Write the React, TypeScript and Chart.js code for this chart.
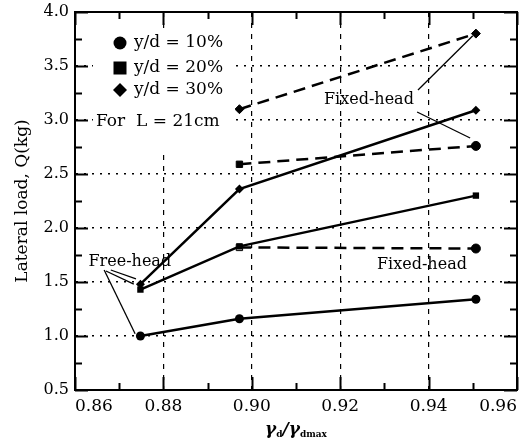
import React, { useEffect, useRef } from 'react';
import { Chart, registerables } from 'chart.js';

Chart.register(...registerables);

// ---- data ----
const freeX = [0.8748, 0.8972, 0.9507];
const free10 = [1.0, 1.16, 1.34];
const free20 = [1.43, 1.83, 2.3];
const free30 = [1.48, 2.36, 3.09];

const fixedX = [0.8972, 0.9507];
const fixed10 = [1.82, 1.81];
const fixed20 = [2.59, 2.76];
const fixed30 = [3.1, 3.8];

const xTickLabels = ['0.86', '0.88', '0.90', '0.92', '0.94', '0.96'];
const yTickLabels = ['0.5', '1.0', '1.5', '2.0', '2.5', '3.0', '3.5', '4.0'];

const legendLabels = ['y/d = 10%', 'y/d = 20%', 'y/d = 30%'];
const legendNote = 'For  L = 21cm';

// annotation leader lines in data units [x, y]
const leaderFixedUpper = [[0.9376, 3.278], [0.95, 3.78]];
const leaderFixedLower = [[0.9374, 3.074], [0.9494, 2.833]];
const leaderFreeA = [[0.8666, 1.611], [0.8736, 1.02]];
const leaderFreeB = [[0.867, 1.602], [0.8733, 1.481]];
const leaderFreeC = [[0.8681, 1.611], [0.8738, 1.528]];

const annotationTexts = [
  { text: 'Fixed-head', x: 0.9265, y: 3.185 },
  { text: 'Fixed-head', x: 0.9385, y: 1.657 },
  { text: 'Free-head', x: 0.8724, y: 1.685 },
];

const SERIF = '"DejaVu Serif", "Liberation Serif", serif';

const pts = (xs: number[], ys: number[]) => xs.map((x, i) => ({ x, y: ys[i] }));
const seg = (arr: number[][]) => arr.map(([x, y]) => ({ x, y }));

const near = (v: number, step: number) => Math.abs(v / step - Math.round(v / step)) < 1e-6;

const decorPlugin = {
  id: 'decor',
  afterDraw(chart: any) {
    const ctx = chart.ctx as CanvasRenderingContext2D;
    const { left, right, top, bottom } = chart.chartArea;
    const xs = chart.scales.x;
    const ys = chart.scales.y;
    ctx.save();
    ctx.setLineDash([]);
    ctx.strokeStyle = '#000';
    ctx.fillStyle = '#000';
    ctx.lineCap = 'butt';

    // frame
    ctx.lineWidth = 2;
    ctx.strokeRect(left, top, right - left, bottom - top);

    // inward ticks
    ctx.lineWidth = 2;
    for (let k = 0; k <= 10; k++) {
      const v = 0.86 + k * 0.01;
      const px = Math.round(xs.getPixelForValue(v)) + 0.5;
      const len = k % 2 === 0 ? 13 : 7;
      ctx.beginPath();
      ctx.moveTo(px, bottom);
      ctx.lineTo(px, bottom - len);
      ctx.moveTo(px, top);
      ctx.lineTo(px, top + len);
      ctx.stroke();
    }
    for (let k = 0; k <= 14; k++) {
      const v = 0.5 + k * 0.25;
      const py = Math.round(ys.getPixelForValue(v)) + 0.5;
      const len = k % 2 === 0 ? 13 : 7;
      ctx.beginPath();
      ctx.moveTo(left, py);
      ctx.lineTo(left + len, py);
      ctx.moveTo(right, py);
      ctx.lineTo(right - len, py);
      ctx.stroke();
    }

    // legend box (white background)
    ctx.fillStyle = '#fff';
    ctx.fillRect(left + 18, top + 18, 142, 120);
    ctx.fillStyle = '#000';
    const mx = left + 45;
    const rows = [top + 31, top + 56, top + 78];
    ctx.beginPath();
    ctx.arc(mx, rows[0], 6.5, 0, Math.PI * 2);
    ctx.fill();
    ctx.fillRect(mx - 6.5, rows[1] - 6.5, 13, 13);
    ctx.beginPath();
    ctx.moveTo(mx, rows[2] - 7);
    ctx.lineTo(mx + 7, rows[2]);
    ctx.lineTo(mx, rows[2] + 7);
    ctx.lineTo(mx - 7, rows[2]);
    ctx.closePath();
    ctx.fill();
    ctx.font = `17px ${SERIF}`;
    ctx.textBaseline = 'middle';
    ctx.textAlign = 'left';
    legendLabels.forEach((t, i) => ctx.fillText(t, mx + 14, rows[i]));
    ctx.fillText(legendNote, left + 21, ys.getPixelForValue(3.0) + 2);

    // annotation texts
    ctx.font = `16px ${SERIF}`;
    ctx.textAlign = 'center';
    annotationTexts.forEach((a) => {
      ctx.fillText(a.text, xs.getPixelForValue(a.x), ys.getPixelForValue(a.y));
    });

    // x-axis title: γd/γdmax
    const big = `italic bold 17px ${SERIF}`;
    const small = `bold 9px ${SERIF}`;
    const parts: [string, string, number][] = [
      ['γ', big, 0],
      ['d', small, 3],
      ['/', big, 0],
      ['γ', big, 0],
      ['dmax', small, 3],
    ];
    let total = 0;
    parts.forEach(([t, f]) => {
      ctx.font = f;
      total += ctx.measureText(t).width;
    });
    let cx = (left + right) / 2 - total / 2;
    const base = 434;
    ctx.textAlign = 'left';
    ctx.textBaseline = 'alphabetic';
    parts.forEach(([t, f, dy]) => {
      ctx.font = f;
      ctx.fillText(t, cx, base + dy);
      cx += ctx.measureText(t).width;
    });
    ctx.restore();
  },
};

export default function App() {
  const ref = useRef<HTMLCanvasElement | null>(null);

  useEffect(() => {
    if (!ref.current) return;
    const solid = (data: any[], style: string) => ({
      data,
      borderColor: '#000',
      backgroundColor: '#000',
      borderWidth: 2.5,
      pointStyle: style,
      pointRadius: 4.5,
      pointBorderWidth: 0,
      showLine: true,
      tension: 0,
    });
    const dashed = (data: any[], style: any, bg: any = '#000') => ({
      data,
      borderColor: '#000',
      backgroundColor: bg,
      borderWidth: 2.5,
      borderDash: [12, 7],
      pointStyle: style,
      pointRadius: 4.5,
      pointBorderWidth: 1,
      pointBorderColor: '#000',
      showLine: true,
      tension: 0,
    });
    const leader = (data: any[]) => ({
      data,
      borderColor: '#000',
      borderWidth: 1.3,
      pointRadius: 0,
      showLine: true,
      tension: 0,
    });

    const chart = new Chart(ref.current, {
      type: 'scatter',
      data: {
        datasets: [
          solid(pts(freeX, free10), 'circle'),
          solid(pts(freeX, free20), 'rect'),
          solid(pts(freeX, free30), 'rectRot'),
          dashed(pts(fixedX, fixed10), ['rect', 'circle'], ['#fff', '#000']),
          dashed(pts(fixedX, fixed20), ['rect', 'circle']),
          dashed(pts(fixedX, fixed30), 'rectRot'),
          leader(seg(leaderFixedUpper)),
          leader(seg(leaderFixedLower)),
          leader(seg(leaderFreeA)),
          leader(seg(leaderFreeB)),
          leader(seg(leaderFreeC)),
        ] as any,
      },
      options: {
        animation: false,
        responsive: false,
        maintainAspectRatio: false,
        layout: { padding: { left: 0, right: 13, top: 12, bottom: 0 } },
        plugins: {
          legend: { display: false },
          tooltip: { enabled: false },
        },
        scales: {
          x: {
            type: 'linear',
            min: 0.86,
            max: 0.96,
            ticks: {
              stepSize: 0.01,
              autoSkip: false,
              maxRotation: 0,
              align: 'inner',
              padding: 6,
              color: '#000',
              font: { family: SERIF, size: 17 },
              callback: (v: any) => {
                const n = Math.round(Number(v) * 100);
                if (n % 2 !== 0) return '';
                return xTickLabels[(n - 86) / 2] ?? '';
              },
            },
            grid: {
              drawTicks: false,
              lineWidth: 1.2,
              color: (c: any) => {
                const v = c.tick?.value;
                if (v === undefined) return 'transparent';
                const n = Math.round(v * 100);
                return n % 2 === 0 && n > 86 && n < 96 ? '#000' : 'transparent';
              },
            },
            border: { display: true, color: '#000', width: 2, dash: [5, 6] },
            title: { display: false },
            afterFit: (s: any) => {
              s.height = 51;
              s.paddingLeft = 0;
              s.paddingRight = 0;
            },
          } as any,
          y: {
            type: 'linear',
            min: 0.5,
            max: 4.0,
            ticks: {
              stepSize: 0.25,
              autoSkip: false,
              padding: 6,
              color: '#000',
              font: { family: SERIF, size: 16 },
              callback: (v: any) => {
                const n = Number(v);
                if (!near(n, 0.5)) return '';
                return yTickLabels[Math.round((n - 0.5) / 0.5)] ?? '';
              },
            },
            grid: {
              drawTicks: false,
              lineWidth: 1.5,
              color: (c: any) => {
                const v = c.tick?.value;
                if (v === undefined) return 'transparent';
                return near(v, 0.5) && v > 0.6 && v < 3.9 ? '#000' : 'transparent';
              },
            },
            border: { display: true, color: '#000', width: 2, dash: [2, 6] },
            title: {
              display: true,
              text: 'Lateral load, Q(kg)',
              color: '#000',
              font: { family: SERIF, size: 17 },
              padding: { top: 12, bottom: 0 },
            },
            afterFit: (s: any) => {
              s.width = 75;
              s.paddingTop = 0;
              s.paddingBottom = 0;
            },
          } as any,
        },
      },
      plugins: [decorPlugin],
    });
    return () => chart.destroy();
  }, []);

  return (
    <div style={{ position: 'fixed', left: 0, top: 0, width: 530, height: 441, background: '#fff' }}>
      <canvas ref={ref} width={530} height={441} style={{ display: 'block' }} />
    </div>
  );
}
